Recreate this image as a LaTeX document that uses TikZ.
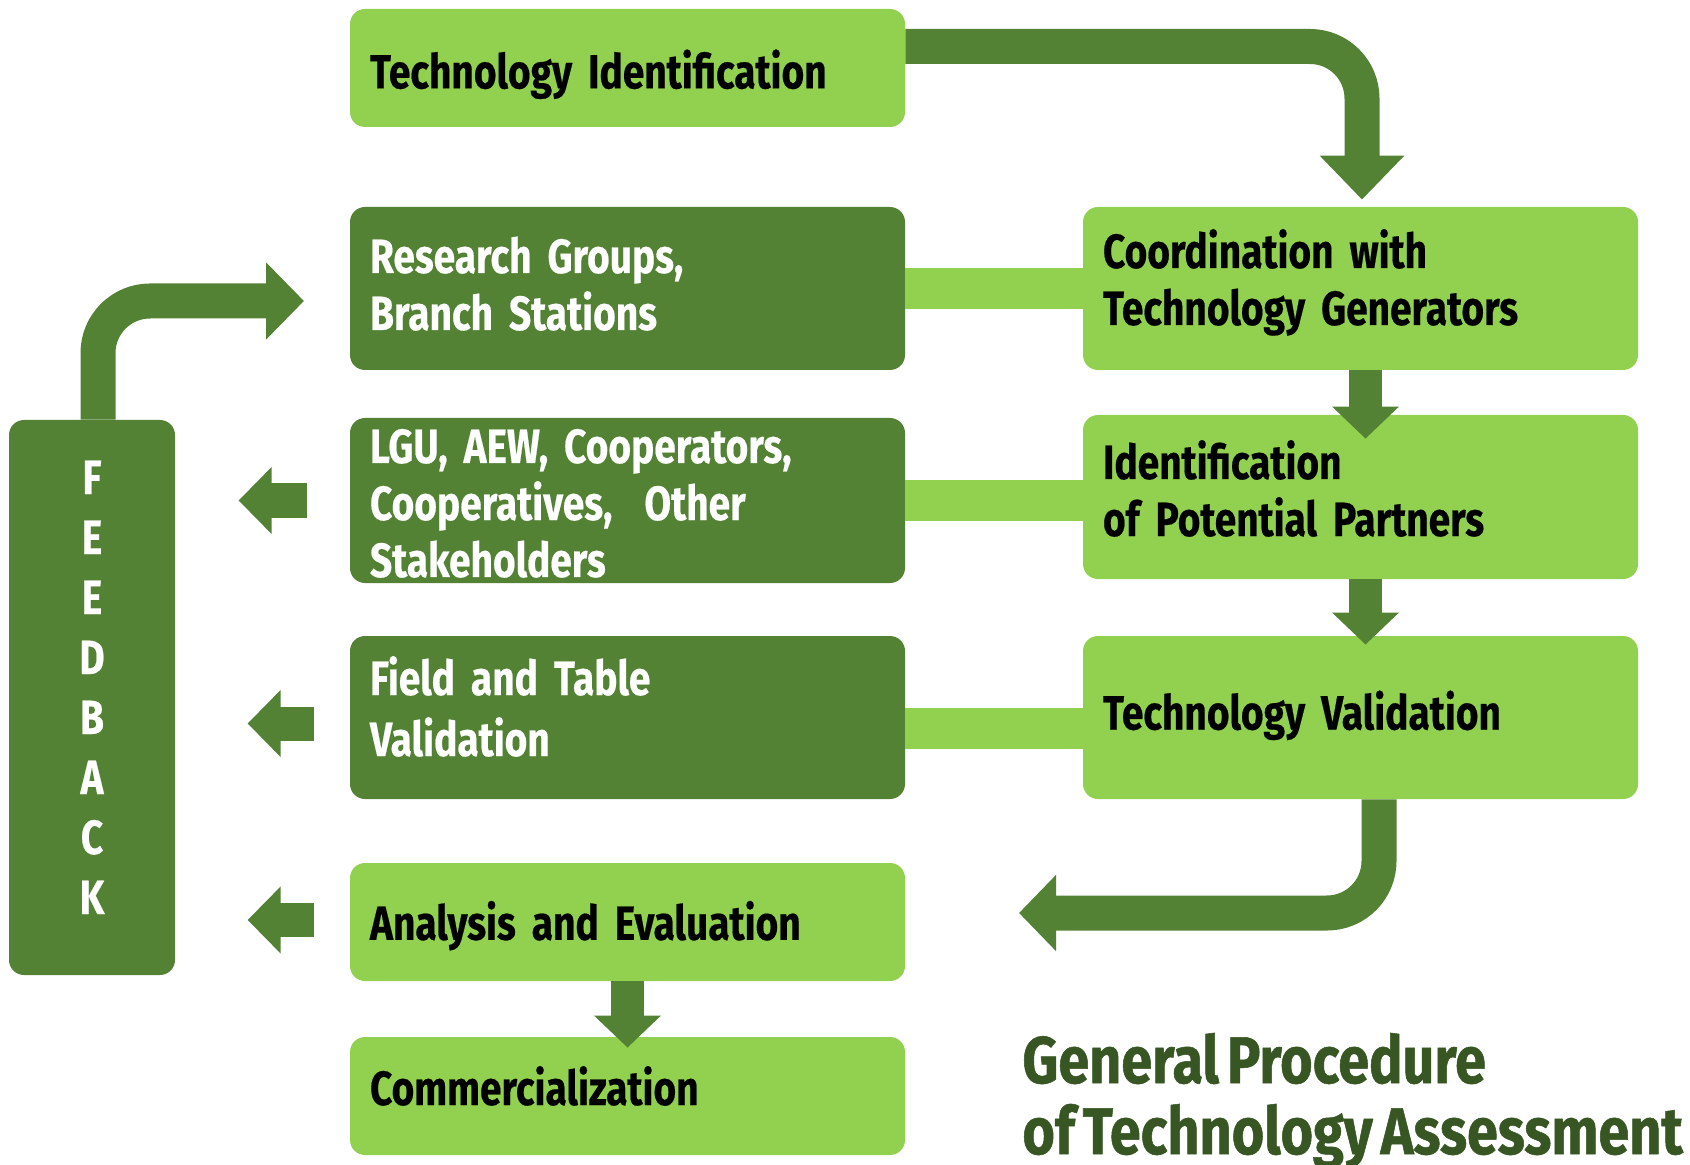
\documentclass[tikz,border=0pt]{standalone}
\usepackage{fontspec}
\newfontfamily\condfont{Fira Sans}[FakeStretch=0.81, WordSpace=0.55, FakeBold=0.4]
\newfontfamily\titlefont{Fira Sans}[FakeStretch=0.845, WordSpace=0.6, FakeBold=0.8]
\usetikzlibrary{arrows.meta}
\definecolor{leafgreen}{HTML}{92D050}
\definecolor{mossgreen}{HTML}{548235}
\definecolor{darkgreen}{HTML}{375623}
\tikzset{
	box/.style={rounded corners=7.5pt, text width=257.5pt, inner xsep=10pt, inner ysep=0pt, align=left,
		font=\condfont\bfseries\fontsize{24pt}{28.5pt}\selectfont},
	lightbox/.style={box, fill=leafgreen, text=black},
	darkbox/.style={box, fill=mossgreen, text=white},
	oneline/.style={text height=#1, text depth=0pt},
	twoline/.style={text height=0pt, text depth=#1},
	bar/.style={leafgreen, line width=20.5pt},
	flow/.style={mossgreen, line width=17.5pt, rounded corners=26pt},
	stepar/.style={mossgreen, line width=16.5pt, -{Triangle[width=32.5pt,length=16pt]}},
	backar/.style={mossgreen, line width=17pt, -{Triangle[width=32.5pt,length=16.5pt]}}
}
\begin{document}
\begin{tikzpicture}[x=0.5pt,y=-0.5pt]
		\useasboundingbox (0,0) rectangle (1690,1165);
		% left column
		\node[lightbox, minimum height=59pt, oneline=20.4pt] (techid) at (627.5,68) {Technology Identification};
		\node[darkbox, minimum height=81.5pt, twoline=15.5pt] (research) at (627.5,288.5) {Research Groups,\\Branch Stations};
		\node[darkbox, minimum height=82.5pt, twoline=37.5pt] (lgu) at (627.5,500.5) {LGU, AEW, Cooperators,\\Cooperatives,~ Other\\Stakeholders};
		\node[darkbox, minimum height=81.5pt, twoline=22.5pt] (field) at (627.5,717.5) {Field and Table\\[2pt]Validation};
		\node[lightbox, minimum height=59pt, oneline=17.8pt] (analysis) at (627.5,922) {Analysis and Evaluation};
		\node[lightbox, minimum height=59pt, oneline=9pt] (commerce) at (627.5,1096) {Commercialization};
		% right column
		\node[lightbox, minimum height=81.5pt, twoline=20.5pt] (coord) at (1360.5,288.5) {Coordination with\\Technology Generators};
		\node[lightbox, minimum height=82pt, twoline=18pt] (partners) at (1360.5,497) {Identification\\of Potential Partners};
		\node[lightbox, minimum height=81.5pt, oneline=12pt] (techval) at (1360.5,717.5) {Technology Validation};
		% feedback column
		\node[fill=mossgreen, rounded corners=7.5pt, minimum width=83pt, minimum height=277.5pt, inner sep=0pt,
			text=white, align=center, text height=216.5pt, text depth=0pt,
			font=\condfont\bfseries\fontsize{24pt}{30pt}\selectfont]
			(feedback) at (92,697.5) {F\\E\\E\\D\\B\\A\\C\\K};
		\node[anchor=base west, inner sep=0pt, align=left, text=darkgreen,
			font=\titlefont\bfseries\fontsize{33pt}{35.5pt}\selectfont]
			(title) at (1022,1154) {General Procedure\\of Technology Assessment};
		% links
		\draw[bar] (research.east) -- (research.east -| coord.west);
		\draw[bar] (lgu.east) -- (lgu.east -| partners.west);
		\draw[bar] ([yshift=-5.5pt]field.east) -- ([yshift=-5.5pt]field.east -| techval.west);
		% arrows
		\coordinate (t1) at (1362,46.5);
		\coordinate (f1) at (304,301);
		\coordinate (a1) at (1019,913);
		\draw[flow, -{Triangle[width=41pt,length=22pt]}] (techid.east |- t1) -- (t1) -- ([yshift=3.5pt]coord.north -| t1);
		\draw[flow, -{Triangle[width=37.5pt,length=19pt]}] ([xshift=3pt]feedback.north) |- (f1);
		\draw[flow, -{Triangle[width=37pt,length=18.5pt]}] ([xshift=9.25pt]techval.south) |- (a1);
		\draw[stepar] ([xshift=2.5pt]coord.south) -- ([xshift=2.5pt,yshift=-12pt]partners.north);
		\draw[stepar] ([xshift=2.5pt]partners.south) -- ([xshift=2.5pt,yshift=-4.5pt]techval.north);
		\draw[stepar] (analysis.south) -- ([yshift=-5.5pt]commerce.north);
		\draw[backar] ([xshift=-21.5pt]lgu.west) -- ++(-68,0);
		\draw[backar] ([xshift=-18pt,yshift=-3pt]field.west) -- ++(-66,0);
		\draw[backar] ([xshift=-18pt,yshift=1pt]analysis.west) -- ++(-66,0);
\end{tikzpicture}
\end{document}
